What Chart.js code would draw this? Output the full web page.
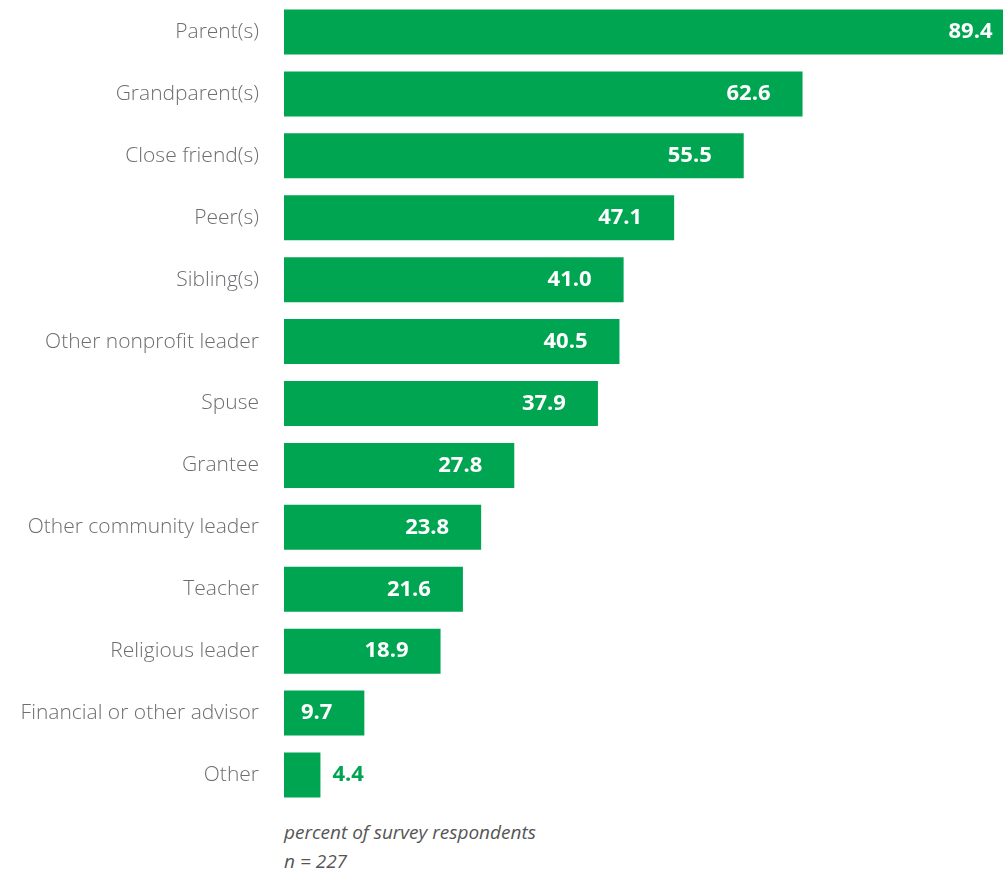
<!DOCTYPE html>
<html>
<head>
<meta charset="utf-8">
<script src="https://cdn.jsdelivr.net/npm/chart.js@4/dist/chart.umd.min.js"></script>
<style>
  html, body { margin: 0; padding: 0; background: #fff; }
  #wrap { position: relative; width: 1003px; height: 869px; }
  #c { position: absolute; left: 0; top: 0; }
  .note { position: absolute; left: 284px; font-family: "Open Sans", sans-serif; font-style: italic; font-size: 19px; line-height: 26px; color: #555; white-space: nowrap; }
</style>
</head>
<body>
<div id="wrap">
  <canvas id="c" width="1003" height="806"></canvas>
  <div class="note" style="top:819px;">percent of survey respondents</div>
  <div class="note" style="top:848px;">n = 227</div>
</div>
<script>
const categories = ["Parent(s)", "Grandparent(s)", "Close friend(s)", "Peer(s)", "Sibling(s)", "Other nonprofit leader", "Spuse", "Grantee", "Other community leader", "Teacher", "Religious leader", "Financial or other advisor", "Other"];
const values = [89.4, 62.6, 55.5, 47.1, 41.0, 40.5, 37.9, 27.8, 23.8, 21.6, 18.9, 9.7, 4.4];
const valueLabels = ["89.4", "62.6", "55.5", "47.1", "41.0", "40.5", "37.9", "27.8", "23.8", "21.6", "18.9", "9.7", "4.4"];

const GREEN = "#00A551";

const labelPlugin = {
  id: "valueLabels",
  afterDatasetsDraw(chart) {
    const ctx = chart.ctx;
    const meta = chart.getDatasetMeta(0);
    ctx.save();
    ctx.font = "bold 22px 'Open Sans', sans-serif";
    ctx.textBaseline = "middle";
    meta.data.forEach((bar, i) => {
      const txt = valueLabels[i];
      const w = ctx.measureText(txt).width;
      const xEnd = chart.scales.x.getPixelForValue(values[i]);
      if (xEnd - bar.base > w + 40) {
        ctx.fillStyle = "#ffffff";
        ctx.textAlign = "right";
        ctx.fillText(txt, xEnd - 32, bar.y);
      } else {
        ctx.fillStyle = GREEN;
        ctx.textAlign = "left";
        ctx.fillText(txt, xEnd + 12, bar.y);
      }
    });
    ctx.restore();
  }
};

new Chart(document.getElementById("c"), {
  type: "bar",
  data: {
    labels: categories,
    datasets: [{
      data: values,
      backgroundColor: GREEN,
      borderWidth: 0,
      barPercentage: 0.727,
      categoryPercentage: 1.0
    }]
  },
  options: {
    indexAxis: "y",
    responsive: false,
    animation: false,
    layout: { padding: { top: 1, right: 0, bottom: 0, left: 0 } },
    plugins: { legend: { display: false }, tooltip: { enabled: false } },
    scales: {
      x: { display: false, min: 0, max: 86.8 },
      y: {
        grid: { display: false },
        border: { display: false },
        ticks: {
          color: "#6d6e71",
          font: { family: "'Open Sans', sans-serif", size: 21, weight: "300" },
          padding: 17
        },
        afterFit(scale) {
          scale.width = 284;
          scale.paddingTop = 0;
          scale.paddingBottom = 0;
        }
      }
    }
  },
  plugins: [labelPlugin]
});
</script>
</body>
</html>
